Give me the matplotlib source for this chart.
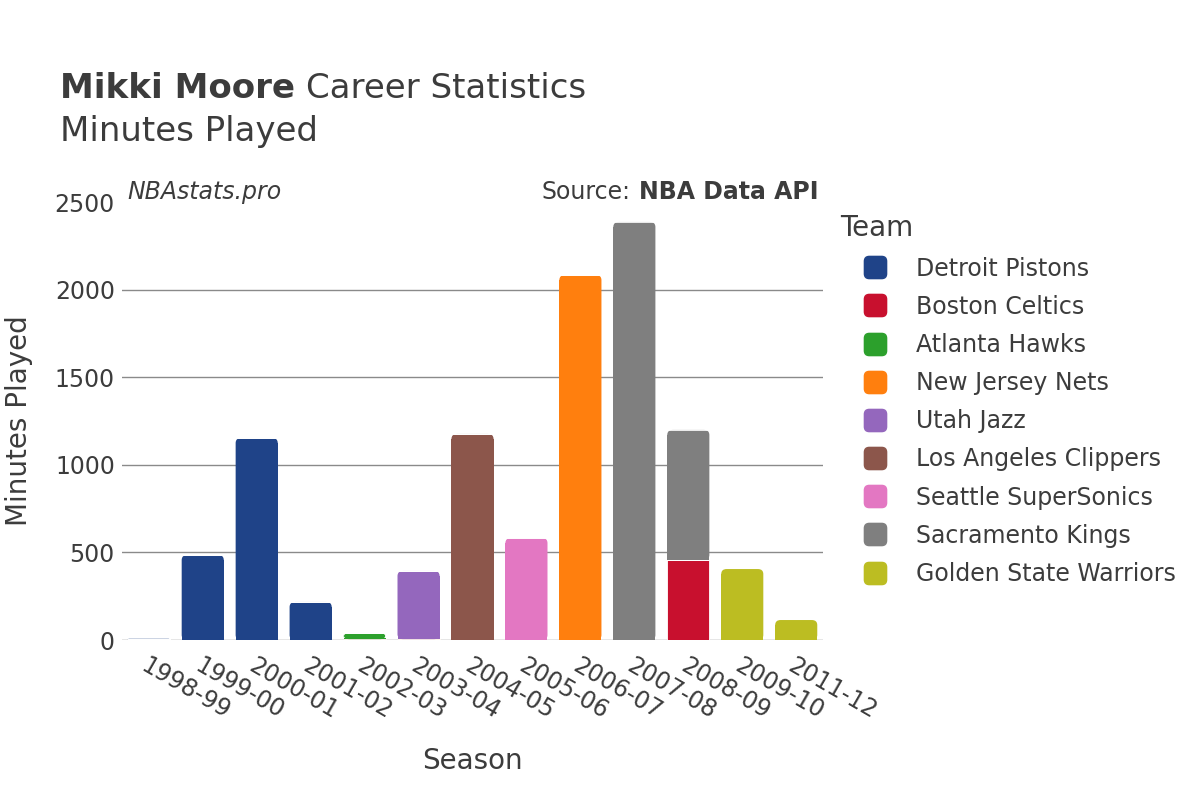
import matplotlib
matplotlib.use('Agg')
import matplotlib.pyplot as plt
from matplotlib.lines import Line2D
from matplotlib.patches import FancyBboxPatch, Rectangle
from matplotlib.path import Path
import numpy as np

seasons = ['1998-99', '1999-00', '2000-01', '2001-02', '2002-03', '2003-04', '2004-05',
           '2005-06', '2006-07', '2007-08', '2008-09', '2009-10', '2011-12']

teams = ['Detroit Pistons', 'Boston Celtics', 'Atlanta Hawks', 'New Jersey Nets', 'Utah Jazz',
         'Los Angeles Clippers', 'Seattle SuperSonics', 'Sacramento Kings', 'Golden State Warriors']
colors = ['#1f4388', '#c8102e', '#2ca02c', '#ff7f0e', '#9467bd',
          '#8c564b', '#e377c2', '#7f7f7f', '#bcbd22']

# minutes per season for each team (stacked in team order)
detroit = [7, 485, 1153, 217, 0, 0, 0, 0, 0, 0, 0, 0, 0]
boston = [0, 0, 0, 0, 5, 0, 0, 0, 0, 0, 457, 0, 0]
atlanta = [0, 0, 0, 0, 35, 0, 0, 0, 0, 0, 0, 0, 0]
new_jersey = [0, 0, 0, 0, 0, 5, 0, 0, 2083, 0, 0, 0, 0]
utah = [0, 0, 0, 0, 0, 389, 0, 0, 0, 0, 0, 0, 0]
clippers = [0, 0, 0, 0, 0, 0, 1176, 0, 0, 0, 0, 0, 0]
seattle = [0, 0, 0, 0, 0, 0, 0, 582, 0, 0, 0, 0, 0]
sacramento = [0, 0, 0, 0, 0, 0, 0, 0, 0, 2386, 742, 0, 0]
golden_state = [0, 0, 0, 0, 0, 0, 0, 0, 0, 0, 0, 405, 114]

series = [detroit, boston, atlanta, new_jersey, utah, clippers, seattle, sacramento, golden_state]

text_color = '#3c3c3c'

fig = plt.figure(figsize=(12, 8), dpi=100)
ax = fig.add_axes([0.1015, 0.2, 0.5845, 0.5475])

ax.set_xlim(-0.5, len(seasons) - 0.5)
ax.set_ylim(0, 2500)

# rounding of the bar tops: ~5 px in both directions
rx = 0.1
aspect = (5 / (0.5475 * 800 / 2500)) / rx

x = np.arange(len(seasons))
bottom = np.zeros(len(seasons))
totals = np.sum(np.array(series, dtype=float), axis=0)
for vals, col, name in zip(series, colors, teams):
    vals = np.array(vals, dtype=float)
    bars = ax.bar(x, vals, bottom=bottom, width=0.78, color=col, edgecolor='white',
                  linewidth=0.6, label=name, zorder=3)
    for i, b in enumerate(bars):
        if vals[i] > 0 and np.isclose(bottom[i] + vals[i], totals[i]):
            # top segment of the stack: rounded top corners, square bottom
            b.set_visible(False)
            h = b.get_height()
            r = min(rx, h / aspect)
            ax.add_patch(FancyBboxPatch((b.get_x(), b.get_y()), b.get_width(), h,
                                        boxstyle=f'round,pad=0,rounding_size={r}',
                                        mutation_aspect=aspect, facecolor=col,
                                        edgecolor='none', linewidth=0, zorder=3))
            low = max(h - r * aspect, 0)
            if low > 0:
                ax.add_patch(Rectangle((b.get_x(), b.get_y()), b.get_width(), low,
                                       facecolor=col, edgecolor='none', linewidth=0,
                                       antialiased=False, zorder=3))
    bottom += vals

ax.set_yticks([0, 500, 1000, 1500, 2000, 2500])
ax.grid(axis='y', color='#8a8a8a', linewidth=1, zorder=0)
ax.get_ygridlines()[-1].set_visible(False)
ax.axhline(0, color='#e6e6e6', linewidth=2, zorder=2)
for s in ax.spines.values():
    s.set_visible(False)
ax.tick_params(axis='both', length=0, labelsize=17, colors=text_color)
ax.tick_params(axis='y', pad=5)
ax.set_xticks(x)
ax.set_xticklabels(seasons, rotation=-30, ha='left', va='top', rotation_mode='anchor')
ax.tick_params(axis='x', pad=10)

ax.set_xlabel('Season', fontsize=20, color=text_color)
ax.xaxis.set_label_coords(0.5, -0.245)
ax.set_ylabel('Minutes Played', fontsize=20, color=text_color)
ax.yaxis.set_label_coords(-0.127, 0.5)

renderer = fig.canvas.get_renderer()

t1 = fig.text(0.05, 0.89, 'Mikki Moore', fontsize=24.5, fontweight='bold',
              color=text_color, va='center')
ext = t1.get_window_extent(renderer)
fig.text(ext.x1 / 1200 + 0.009, 0.89, 'Career Statistics', fontsize=24.5,
         color=text_color, va='center')
fig.text(0.05, 0.835, 'Minutes Played', fontsize=24.5, color=text_color, va='center')

fig.text(0.106, 0.76, 'NBAstats.pro', fontsize=17, style='italic', color=text_color, va='center')
t2 = fig.text(0.682, 0.76, 'NBA Data API', fontsize=17, fontweight='bold', color=text_color,
              va='center', ha='right')
ext2 = t2.get_window_extent(renderer)
fig.text(ext2.x0 / 1200 - 0.007, 0.76, 'Source:', fontsize=17, color=text_color,
         va='center', ha='right')

# rounded square marker for the legend
rsq = FancyBboxPatch((-0.5, -0.5), 1, 1, boxstyle='round,pad=0,rounding_size=0.22')
rsq_path = Path(rsq.get_path().vertices, rsq.get_path().codes)

handles = [Line2D([0], [0], marker=rsq_path, linestyle='', markersize=16, markerfacecolor=c,
                  markeredgecolor=c) for c in colors]
leg = fig.legend(handles, teams, loc='upper left', bbox_to_anchor=(0.7, 0.732),
                 frameon=False, fontsize=17, title='Team', title_fontsize=20,
                 labelspacing=0.6, handlelength=3.0, handletextpad=0.2,
                 borderaxespad=0, borderpad=0)
leg._legend_box.align = 'left'
for t in leg.get_texts():
    t.set_color(text_color)
leg.get_title().set_color(text_color)

fig.savefig('out.png', dpi=100, facecolor='white')
